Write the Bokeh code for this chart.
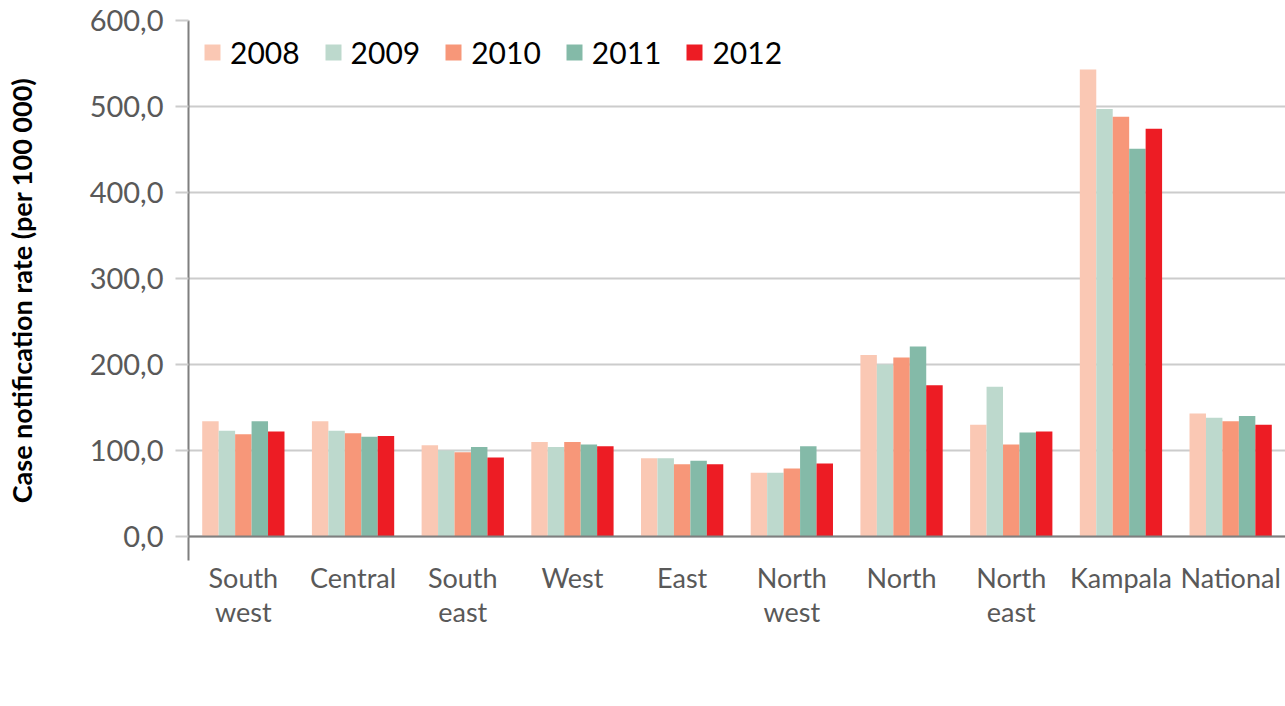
from bokeh.plotting import figure
from bokeh.models import ColumnDataSource, FactorRange, Range1d, FixedTicker, Span
from bokeh.transform import dodge
from bokeh.embed import file_html
from bokeh.resources import INLINE

regions = ["South\nwest", "Central", "South\neast", "West", "East",
           "North\nwest", "North", "North\neast", "Kampala", "National"]
years = ["2008", "2009", "2010", "2011", "2012"]
v2008 = [134, 134, 106, 110, 91, 74, 211, 130, 543, 143]
v2009 = [123, 123, 100, 104, 91, 74, 200, 174, 497, 138]
v2010 = [119, 120, 98, 110, 84, 79, 208, 107, 488, 134]
v2011 = [134, 116, 104, 107, 88, 105, 221, 121, 451, 140]
v2012 = [122, 117, 92, 105, 84, 85, 176, 122, 474, 130]
colors = ["#FAC8B4", "#BDD9CD", "#F79779", "#84BAA8", "#ED1C24"]
yticks = [0, 100, 200, 300, 400, 500, 600]
ytick_labels = ["0,0", "100,0", "200,0", "300,0", "400,0", "500,0", "600,0"]

FONT = "Lato"

source = ColumnDataSource(data={"region": regions, "2008": v2008, "2009": v2009,
                                "2010": v2010, "2011": v2011, "2012": v2012})

p = figure(x_range=FactorRange(*regions, range_padding=0),
           y_range=Range1d(-27.9, 600),
           frame_width=1097, frame_height=540, output_backend="svg", toolbar_location=None,
           min_border_left=188, min_border_right=0, min_border_top=20, min_border_bottom=0)
p.outline_line_color = None
p.background_fill_color = "white"

offsets = [-0.3, -0.15, 0.0, 0.15, 0.3]
for yr, col, off in zip(years, colors, offsets):
    p.vbar(x=dodge("region", off, range=p.x_range), top=yr, bottom=0, width=0.15,
           source=source, fill_color=col, line_color=None, legend_label=yr)

p.xgrid.grid_line_color = None
p.ygrid.grid_line_color = "#cccccc"
p.ygrid.grid_line_width = 2
p.ygrid.ticker = FixedTicker(ticks=yticks)

ya = p.yaxis[0]
ya.ticker = FixedTicker(ticks=yticks)
ya.major_label_overrides = {t: l for t, l in zip(yticks, ytick_labels)}
ya.axis_line_color = "#7f7f7f"
ya.axis_line_width = 2
ya.major_tick_line_color = "#cccccc"
ya.major_tick_line_width = 2
ya.major_tick_out = 13
ya.major_tick_in = 0
ya.minor_tick_line_color = None
ya.major_label_text_font = FONT
ya.major_label_text_font_size = "29px"
ya.major_label_text_color = "#595959"
ya.major_label_standoff = 12
ya.axis_label = "Case notification rate (per 100 000)"
ya.axis_label_text_font = FONT
ya.axis_label_text_font_size = "27px"
ya.axis_label_text_font_style = "bold"
ya.axis_label_text_color = "#000000"
ya.axis_label_standoff = 49

xa = p.xaxis[0]
xa.axis_line_color = None
xa.major_tick_line_color = None
xa.minor_tick_line_color = None
xa.major_label_text_font = FONT
xa.major_label_text_font_size = "27px"
xa.major_label_text_line_height = 1.05
xa.major_label_text_color = "#595959"
xa.major_label_standoff = -6

p.add_layout(Span(location=0, dimension="width", line_color="#7f7f7f", line_width=2))

lg = p.legend[0]
lg.orientation = "horizontal"
lg.location = "top_left"
lg.background_fill_alpha = 0
lg.border_line_color = None
lg.padding = 0
lg.margin = 14
lg.spacing = 23
lg.glyph_width = 20
lg.glyph_height = 20
lg.label_height = 20
lg.label_standoff = 8
lg.label_text_font = FONT
lg.label_text_font_size = "30px"
lg.label_text_color = "#000000"

open("out.html", "w").write(file_html(p, INLINE))
